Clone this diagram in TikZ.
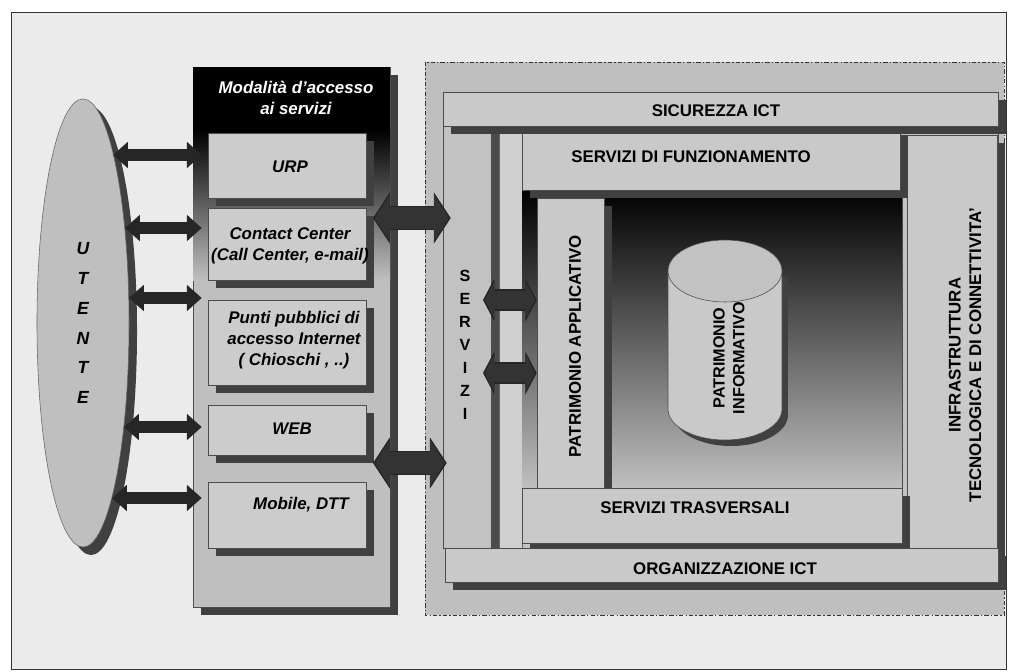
\documentclass[tikz,border=0pt]{standalone}
\usepackage{fontspec}
\setmainfont{Liberation Sans}
\usetikzlibrary{arrows.meta,fit,shadows,shapes.geometric,calc}

\tikzset{
  boxshadow/.style={drop shadow={shadow xshift=0.2cm, shadow yshift=-0.2cm, fill=black!75, opacity=1}},
  layer/.style={draw=black!70, thin, fill=gray!42, inner sep=0pt, boxshadow},
  channel/.style={layer, fill=gray!40},
  layertext/.style={font=\fontsize{12}{14}\selectfont\bfseries},
  channeltext/.style={align=center, font=\fontsize{12}{15}\selectfont\bfseries\itshape},
  vlabel/.style={rotate=90, align=center, font=\fontsize{12}{14.5}\selectfont\bfseries},
  userlink/.style={line width=8.5pt, black!85,
    {Triangle[width=18pt,length=10.5pt]}-{Triangle[width=18pt,length=10.5pt]}},
  userlinkin/.style={line width=6.3pt, gray!30!black, shorten <=1.3pt, shorten >=1.3pt,
    {Triangle[width=14.5pt,length=8.5pt]}-{Triangle[width=14.5pt,length=8.5pt]}},
  biglink/.style={line width=17pt, black!85,
    {Triangle[width=36pt,length=12pt]}-{Triangle[width=36pt,length=12pt]}},
  biglinkin/.style={line width=15pt, gray!40!black, shorten <=1.3pt, shorten >=1.3pt,
    {Triangle[width=32pt,length=10.5pt]}-{Triangle[width=32pt,length=10.5pt]}},
  smalllink/.style={line width=15pt, black!85,
    {Triangle[width=30pt,length=8pt]}-{Triangle[width=30pt,length=8pt]}},
  smalllinkin/.style={line width=13pt, gray!40!black, shorten <=1.2pt, shorten >=1.2pt,
    {Triangle[width=26pt,length=6.8pt]}-{Triangle[width=26pt,length=6.8pt]}},
}

\begin{document}
\begin{tikzpicture}[x=0.025cm, y=-0.025cm]
  \useasboundingbox (0,0) rectangle (1017,671);
  % sheet and frame
  \fill[white] (0,0) rectangle (1017,671);
  \draw[black!80, fill=gray!16] (11,12) rectangle (1006,669);

  % right panel
  \draw[black!80, fill=gray!50, dash pattern=on 3pt off 1.5pt on 1pt off 1.5pt]
    (425,62) rectangle (1004,615);
  \draw[black!70, fill=gray!48] (443,126) rectangle (998,548);
  \node[fit={(443,126)(490,548)}, inner sep=0pt] (srv) {};
  \node[align=center, font=\fontsize{11.5}{16.4}\selectfont\bfseries] (srvtext) at (465,345)
    {S\\E\\R\\V\\I\\Z\\I};
  \node[layer, fit={(907,135)(997,548)}] (infra) {};
  \node[vlabel] (infratext) at (965,355)
    {INFRASTRUTTURA\\TECNOLOGICA E DI CONNETTIVITA'};
  % pipe
  \fill[black!70] (491,133) rectangle (499,548);
  \draw[black!60, fill=gray!38] (499,133) rectangle (522,548);
  % dark core
  \shade[top color=black, bottom color=gray!50] (522,190) rectangle (902,488);
  \draw[black!70] (902,190) -- (902,488);
  \node[layer, fit={(522,127)(900,190)}] (funz) {};
  \node[layertext] (funztext) at (691,157) {SERVIZI DI FUNZIONAMENTO};
  \node[layer, fit={(537,198)(604,488)}] (papp) {};
  \node[vlabel] (papptext) at (575,346) {PATRIMONIO APPLICATIVO};
  % cylinder
  \fill[black!75] (674,277) rectangle (788,415);
  \fill[black!75] (731,415) ellipse [x radius=57, y radius=31];
  \fill[gray!42] (668,271) rectangle (782,409);
  \fill[gray!42] (725,409) ellipse [x radius=57, y radius=31];
  \draw[black!70] (668,271) -- (668,409) arc[start angle=180, end angle=0, x radius=57, y radius=31]
    -- (782,271);
  \draw[black!70, fill=gray!48] (725,271) ellipse [x radius=57, y radius=31];
  \node[vlabel, font=\fontsize{11.5}{14}\selectfont\bfseries] (pinf) at (729,358)
    {PATRIMONIO\\INFORMATIVO};
  \node[layer, fit={(522,488)(902,543)}] (trasv) {};
  \node[layertext] (trasvtext) at (695,508) {SERVIZI TRASVERSALI};
  \node[layer, fit={(443,92)(998,126)}] (sicur) {};
  \node[layertext] (sicurtext) at (716,111) {SICUREZZA ICT};
  \node[layer, fit={(445,548)(998,582)}] (org) {};
  \node[layertext] (orgtext) at (725,569) {ORGANIZZAZIONE ICT};
  % links between servizi and patrimonio applicativo
  \foreach \n/\y in {1/300, 2/373} {
    \coordinate (s\n) at (483,\y);
    \draw[smalllink] (s\n) -- (s\n -| papp.west);
    \draw[smalllinkin] (s\n) -- (s\n -| papp.west);
  }

  % access column
  \node[fit={(193,67)(390,607)}, inner sep=0pt, draw=black!70, fill=gray!50, boxshadow] (access) {};
  \shade[top color=black, bottom color=gray!50] (193,130) rectangle (390,280);
  \node[fit={(193,67)(390,130)}, inner sep=0pt, fill=black] (hdr) {};
  \node[channeltext, text=white] (hdrtext) at (296,98) {Modalità d'accesso\\ai servizi};
  \node[channel, fit={(208,133)(366,198)}] (urp) {};
  \node[channeltext] (urptext) at (290,167) {URP};
  \node[channel, fit={(208,208)(366,280)}] (cc) {};
  \node[channeltext] (cctext) at (290,246) {Contact Center\\(Call Center, e-mail)};
  \node[channel, fit={(208,300)(366,385)}] (pp) {};
  \node[channeltext] (pptext) at (294,340) {Punti pubblici di\\accesso Internet\\( Chioschi , ..)};
  \node[channel, fit={(208,405)(366,455)}] (web) {};
  \node[channeltext] (webtext) at (292,429) {WEB};
  \node[channel, fit={(208,482)(366,548)}] (mob) {};
  \node[channeltext] (mobtext) at (301,505) {Mobile, DTT};

  % links between access column and servizi
  \foreach \n/\y/\d in {1/218/8, 2/463/4} {
    \coordinate (b\n) at (373,\y);
    \draw[biglink] (b\n) -- ($(b\n -| srv.west)+(\d,0)$);
    \draw[biglinkin] (b\n) -- ($(b\n -| srv.west)+(\d,0)$);
  }

  % user
  \node[ellipse, draw=black!60, fill=gray!50, minimum width=2.3cm, minimum height=11.2cm,
    boxshadow, align=center, font=\fontsize{12.5}{21.3}\selectfont\bfseries\itshape]
    (utente) at (83,323) {U\\T\\E\\N\\T\\E};
  \foreach \b/\xl/\yl in {urp/113/155, cc/125/228, pp/129/298, web/124/427, mob/112/498} {
    \coordinate (u\b) at (\xl,\yl);
    \draw[userlink] (u\b) -- ($(u\b -| \b.west)+(-6,0)$);
    \draw[userlinkin] (u\b) -- ($(u\b -| \b.west)+(-6,0)$);
  }
\end{tikzpicture}
\end{document}
